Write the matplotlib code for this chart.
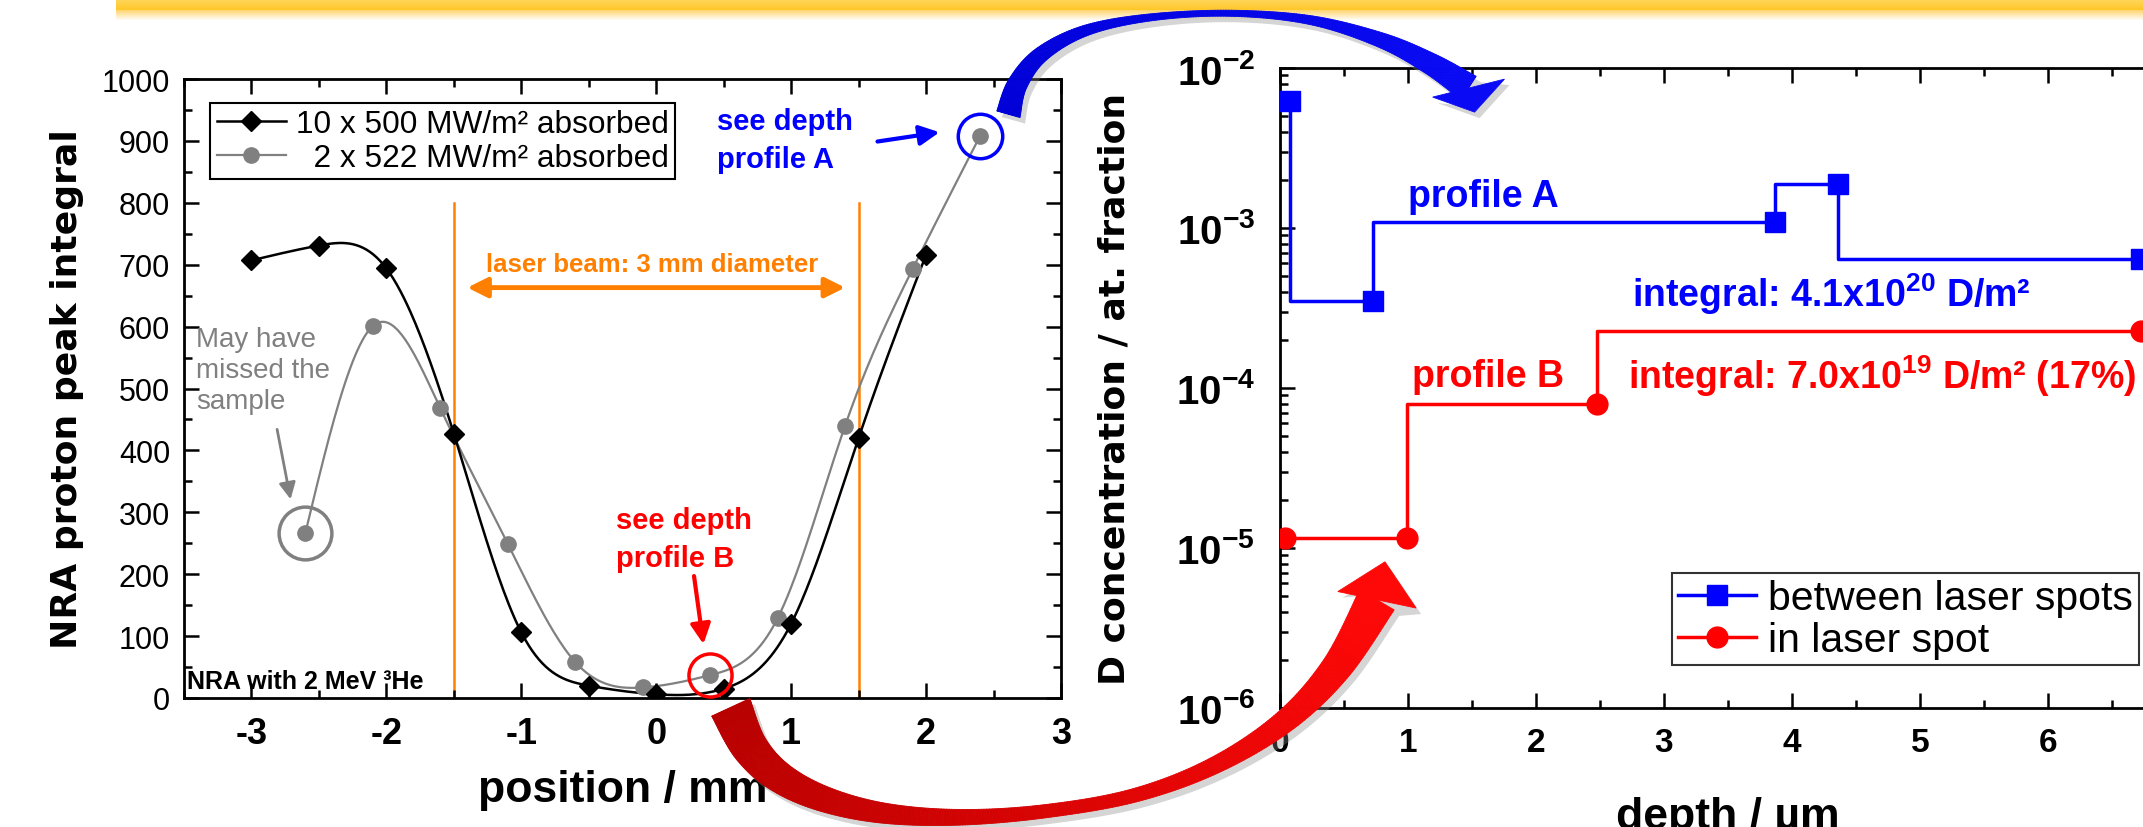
import numpy as np
import matplotlib
matplotlib.use('Agg')
import matplotlib.pyplot as plt
from matplotlib.lines import Line2D
from matplotlib.patches import Polygon, Rectangle
from matplotlib.collections import PolyCollection
from matplotlib.colors import to_rgb
from matplotlib.ticker import MultipleLocator, NullFormatter
from matplotlib.transforms import IdentityTransform

plt.rcParams['font.family'] = ['Liberation Sans', 'DejaVu Sans']
plt.rcParams['mathtext.fontset'] = 'custom'
plt.rcParams['mathtext.rm'] = 'Liberation Sans'
plt.rcParams['mathtext.bf'] = 'Liberation Sans:bold'
plt.rcParams['mathtext.it'] = 'Liberation Sans:italic'

# NRA scan across the laser spot
pos_black = [-3, -2.5, -2, -1.5, -1, -0.5, 0, 0.5, 1, 1.5, 2]
nra_black = [707, 731, 694, 427, 106, 20, 6, 15, 120, 420, 716]
pos_gray = [-2.6, -2.1, -1.6, -1.1, -0.6, -0.1, 0.4, 0.9, 1.4, 1.9, 2.4]
nra_gray = [267, 601, 468, 249, 58, 17, 37, 129, 440, 693, 908]

# depth profiles
depth_a = [0.08, 0.73, 3.87, 4.36, 6.73]
conc_a = [6.2e-3, 3.5e-4, 1.09e-3, 1.88e-3, 6.4e-4]
depth_b = [0.04, 0.99, 2.48, 6.73]
conc_b = [1.15e-5, 1.15e-5, 8.0e-5, 2.28e-4]

W, H = 2143, 828
ORANGE = '#FF8000'


def spline(x, y, n=400):
    # natural cubic spline, only used to draw the smooth connecting line
    x = np.asarray(x, float)
    y = np.asarray(y, float)
    k = len(x)
    h = np.diff(x)
    A = np.zeros((k, k))
    r = np.zeros(k)
    A[0, 0] = A[-1, -1] = 1
    for i in range(1, k - 1):
        A[i, i - 1] = h[i - 1]
        A[i, i] = 2 * (h[i - 1] + h[i])
        A[i, i + 1] = h[i]
        r[i] = 6 * ((y[i + 1] - y[i]) / h[i] - (y[i] - y[i - 1]) / h[i - 1])
    M = np.linalg.solve(A, r)
    xs = np.linspace(x[0], x[-1], n)
    j = np.clip(np.searchsorted(x, xs) - 1, 0, k - 2)
    t0 = x[j + 1] - xs
    t1 = xs - x[j]
    hh = h[j]
    ys = (M[j] * t0**3 + M[j + 1] * t1**3) / (6 * hh) \
        + (y[j] / hh - M[j] * hh / 6) * t0 + (y[j + 1] / hh - M[j + 1] * hh / 6) * t1
    return xs, ys


def catmull(pts, n=30):
    P = np.vstack([pts[0], pts, pts[-1]])
    out = []
    t = np.linspace(0, 1, n, endpoint=False)[:, None]
    for i in range(1, len(P) - 2):
        p0, p1, p2, p3 = P[i - 1], P[i], P[i + 1], P[i + 2]
        out.append(0.5 * (2 * p1 + (p2 - p0) * t + (2 * p0 - 5 * p1 + 4 * p2 - p3) * t**2
                          + (3 * p1 - p0 - 3 * p2 + p3) * t**3))
    out.append(P[-2][None])
    return np.vstack(out)


def curved_arrow(start, vias, tip, base_off, w0, wmid, w1, head_w):
    # start/tip in display px (y up); vias are offsets from start, base_off from tip,
    # both given with y pointing down like the picture
    flip = np.array([1, -1])
    start = np.asarray(start, float)
    tip = np.asarray(tip, float)
    base = tip + np.asarray(base_off, float) * flip
    pts = [start] + [start + np.asarray(v, float) * flip for v in vias] + [base]
    c = catmull(np.array(pts))
    g = np.gradient(c, axis=0)
    nrm = np.column_stack([-g[:, 1], g[:, 0]])
    nrm /= np.hypot(nrm[:, 0], nrm[:, 1])[:, None]
    s = np.concatenate([[0], np.cumsum(np.hypot(*np.diff(c, axis=0).T))])
    s = (s / s[-1])[:, None]
    wq = 2 * wmid - (w0 + w1) / 2
    w = (w0 * (1 - s)**2 + 2 * wq * s * (1 - s) + w1 * s**2) / 2
    left = c + nrm * w
    right = c - nrm * w
    d = tip - base
    d /= np.hypot(*d)
    nd = np.array([-d[1], d[0]])
    head = np.array([base + nd * head_w / 2, tip, base - nd * head_w / 2])
    return left, right, head, s[:, 0]


def draw_arrow(parts, c0, c1):
    left, right, head, s = parts
    outline = np.vstack([left, head, right[::-1]])
    fig.add_artist(Polygon(outline + [5, -6], closed=True, transform=IdentityTransform(),
                           facecolor='#888888', edgecolor='none', alpha=0.35, zorder=9))
    a, b = np.array(to_rgb(c0)), np.array(to_rgb(c1))
    quads = [[left[i], left[i + 1], right[i + 1], right[i]] for i in range(len(s) - 1)]
    cols = [a + (b - a) * s[i] for i in range(len(s) - 1)]
    fig.add_artist(PolyCollection(quads, facecolors=cols, edgecolors=cols, linewidths=0.6,
                                  transform=IdentityTransform(), zorder=10))
    fig.add_artist(Polygon(head, closed=True, transform=IdentityTransform(),
                           facecolor=c1, edgecolor=c1, lw=0.6, zorder=10))


fig = plt.figure(figsize=(W / 100, H / 100), dpi=100)


def frac(l, t, r, b):
    return [l / W, 1 - b / H, (r - l) / W, (b - t) / H]


# yellow title bar at the very top (solid strip plus a soft glow below it)
for i in range(22):
    if i < 11:
        col, alpha = (1.0, 0.84 - 0.006 * i, 0.36 - 0.02 * i), 1.0
    else:
        col, alpha = (1.0, 0.78, 0.25), 0.8 * (21 - i) / 11
    fig.add_artist(Rectangle((116, H - i - 1), W - 116, 1, transform=IdentityTransform(),
                             facecolor=col, edgecolor='none', alpha=alpha, zorder=1))

# ---------------- left: NRA scan ----------------
ax1 = fig.add_axes(frac(184, 80, 1061, 699))
ax1.set_xlim(-3.5, 3)
ax1.set_ylim(0, 1000)

ax1.axvline(-1.5, ymax=0.8, color=ORANGE, lw=1.8, zorder=1)
ax1.axvline(1.5, ymax=0.8, color=ORANGE, lw=1.8, zorder=1)

xs, ys = spline(pos_gray, nra_gray)
ax1.plot(xs, ys, color='#808080', lw=1.6, zorder=2)
ax1.plot(pos_gray, nra_gray, ls='none', marker='o', ms=11, color='#808080', zorder=3)
xs, ys = spline(pos_black, nra_black)
ax1.plot(xs, ys, color='black', lw=1.8, zorder=2)
ax1.plot(pos_black, nra_black, ls='none', marker='D', ms=10, color='black', zorder=4)

# highlight circles
ax1.plot(pos_gray[-1], nra_gray[-1], marker='o', ms=32, mfc='none', mec='blue', mew=2.5, zorder=5)
ax1.plot(pos_gray[6], nra_gray[6], marker='o', ms=31, mfc='none', mec='red', mew=2.5, zorder=5)
ax1.plot(pos_gray[0], nra_gray[0], marker='o', ms=38, mfc='none', mec='#808080', mew=2.5, zorder=5)

ax1.annotate('', xy=(1.4, 663), xytext=(-1.4, 663),
             arrowprops=dict(arrowstyle='<|-|>', color=ORANGE, lw=3.5, mutation_scale=30,
                             shrinkA=0, shrinkB=0))
ax1.text(-0.03, 701, 'laser beam: 3 mm diameter', color=ORANGE, fontsize=18.5,
         fontweight='bold', ha='center', va='center')

ax1.annotate('', xy=(2.1, 914), xytext=(1.64, 899),
             arrowprops=dict(arrowstyle='-|>', color='blue', lw=3, mutation_scale=30,
                             shrinkA=0, shrinkB=0))
ax1.text(0.45, 858, 'see depth\nprofile A', color='blue', fontsize=21, fontweight='bold',
         ha='left', va='baseline', linespacing=1.45)

ax1.annotate('', xy=(0.35, 87), xytext=(0.28, 197),
             arrowprops=dict(arrowstyle='-|>', color='red', lw=3, mutation_scale=30,
                             shrinkA=0, shrinkB=0))
ax1.text(-0.3, 213, 'see depth\nprofile B', color='red', fontsize=21, fontweight='bold',
         ha='left', va='baseline', linespacing=1.45)

ax1.annotate('', xy=(-2.71, 321), xytext=(-2.81, 434),
             arrowprops=dict(arrowstyle='-|>', color='#808080', lw=2, mutation_scale=25,
                             shrinkA=0, shrinkB=0))
ax1.text(-3.41, 468, 'May have\nmissed the\nsample', color='#808080', fontsize=20,
         ha='left', va='baseline', linespacing=1.26)

ax1.text(-3.48, 16, 'NRA with 2 MeV ³He', color='black', fontsize=18, fontweight='bold',
         ha='left', va='baseline')

handles1 = [Line2D([], [], color='black', lw=1.8, marker='D', ms=10),
            Line2D([], [], color='#808080', lw=1.6, marker='o', ms=11)]
leg1 = ax1.legend(handles1, ['10 x 500 MW/m² absorbed', '  2 x 522 MW/m² absorbed'],
                  loc='upper left', bbox_to_anchor=(0.03, 0.962), borderaxespad=0,
                  fontsize=22.8, fancybox=False, edgecolor='black', framealpha=1,
                  handlelength=2.2, handletextpad=0.3, borderpad=0.2, labelspacing=0.12)
leg1.get_frame().set_linewidth(1.5)

ax1.set_xticks(range(-3, 4), labels=[str(v) for v in range(-3, 4)], fontweight='bold')
ax1.xaxis.set_minor_locator(MultipleLocator(0.5))
ax1.set_yticks(range(0, 1001, 100))
ax1.yaxis.set_minor_locator(MultipleLocator(50))
ax1.tick_params(which='both', direction='in', top=True, right=True, width=1.8)
ax1.tick_params(which='major', length=11)
ax1.tick_params(which='minor', length=6)
ax1.tick_params(axis='x', labelsize=26, pad=13)
ax1.tick_params(axis='y', labelsize=22, pad=10)
for s in ax1.spines.values():
    s.set_linewidth(2)
ax1.set_xlabel('position / mm', fontsize=32, fontweight='bold')
ax1.xaxis.set_label_coords(0.5, -0.115)
ax1.set_ylabel('NRA proton peak integral', fontsize=26, fontweight='bold', family='DejaVu Sans')
ax1.yaxis.set_label_coords(-0.114, 0.5)

# ---------------- right: depth profiles ----------------
ax2 = fig.add_axes(frac(1280, 69, 2176, 709))
ax2.set_yscale('log')
ax2.set_xlim(0, 7)
ax2.set_ylim(1e-6, 1e-2)

ax2.plot(depth_a, conc_a, drawstyle='steps-pre', color='blue', lw=2.5, marker='s', ms=15,
         label='between laser spots', zorder=3)
ax2.plot(depth_b, conc_b, drawstyle='steps-pre', color='red', lw=2.5, marker='o', ms=15,
         label='in laser spot', zorder=3)

ax2.text(1.0, 10**-2.86, 'profile A', color='blue', fontsize=27, fontweight='bold', va='baseline')
ax2.text(2.75, 10**-3.49, r'integral: 4.1x10$^{\mathbf{20}}$ D/m²', color='blue', fontsize=27,
         fontweight='bold', va='baseline')
ax2.text(1.03, 10**-3.99, 'profile B', color='red', fontsize=27, fontweight='bold', va='baseline')
ax2.text(2.72, 10**-4.0, r'integral: 7.0x10$^{\mathbf{19}}$ D/m² (17%)', color='red', fontsize=27,
         fontweight='bold', va='baseline')

leg2 = ax2.legend(loc='upper left', bbox_to_anchor=(0.4375, 0.211), borderaxespad=0,
                  fontsize=29.5, fancybox=False, edgecolor='#333333', framealpha=1,
                  handlelength=1.9, handletextpad=0.3, borderpad=0.15, labelspacing=0.1,
                  numpoints=1)
leg2.get_frame().set_linewidth(1.5)

ax2.set_xticks(range(0, 8), labels=[str(v) for v in range(0, 8)], fontweight='bold')
ax2.xaxis.set_minor_locator(MultipleLocator(0.5))
decades = [1e-6, 1e-5, 1e-4, 1e-3, 1e-2]
ax2.set_yticks(decades, labels=[r'$\mathbf{10^{%d}}$' % np.log10(v) for v in decades])
ax2.yaxis.set_minor_formatter(NullFormatter())
ax2.tick_params(which='both', direction='in', top=True, right=True, width=1.8)
ax2.tick_params(which='major', length=11)
ax2.tick_params(which='minor', length=6)
ax2.tick_params(axis='x', labelsize=24, pad=14)
ax2.tick_params(axis='y', labelsize=29, pad=18)
for s in ax2.spines.values():
    s.set_linewidth(2)
ax2.set_xlabel('depth / µm', fontsize=32, fontweight='bold')
ax2.xaxis.set_label_coords(0.5, -0.137)
ax2.set_ylabel('D concentration / at. fraction', fontsize=26, fontweight='bold',
               family='DejaVu Sans')
ax2.yaxis.set_label_coords(-0.166, 0.5)

# ---------------- big curved arrows linking the panels ----------------
red_start = ax1.transData.transform((0.552, -15))
red_tip = ax2.transData.transform((0.82, 8.2e-6))
red_vias = [(19, 40), (49, 70), (94, 92), (154, 106), (229, 110), (314, 104), (404, 88),
            (484, 58), (554, 14), (606, -40)]
draw_arrow(curved_arrow(red_start, red_vias, red_tip, (-8, 38), 42, 13, 40, 80),
           '#B80000', '#FF0808')

blue_start = ax1.transData.transform((2.61, 943))
blue_tip = ax2.transData.transform((1.52, 5.3e-3))
blue_vias = [(9, -30), (33, -60), (78, -84), (143, -97), (223, -101), (303, -94), (373, -74),
             (423, -50)]
draw_arrow(curved_arrow(blue_start, blue_vias, blue_tip, (-6, -24), 24, 6, 28, 74),
           '#0000D8', '#0A0AF5')

fig.savefig('out.png', dpi=100)
